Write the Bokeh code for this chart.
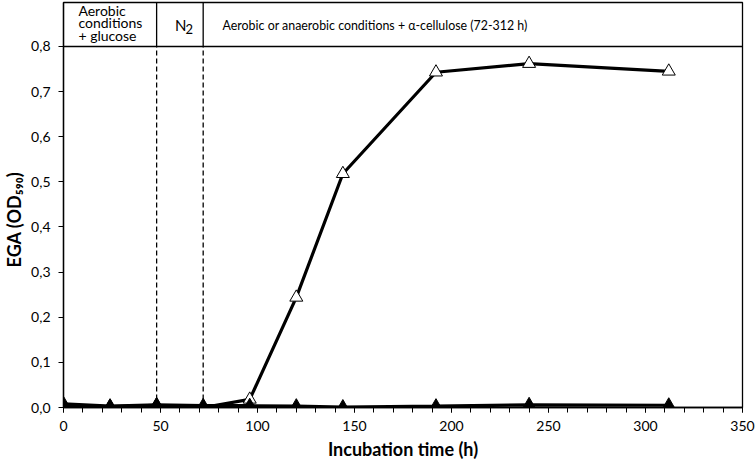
from bokeh.plotting import figure
from bokeh.models import Range1d, FixedTicker, Label, Span, GlobalInlineStyleSheet
from bokeh.embed import file_html
from bokeh.resources import INLINE

# ---- data ----
time_h = [0, 24, 48, 72, 96, 120, 144, 192, 240, 312]
ega_open = [0.004, 0.002, 0.005, 0.0, 0.018, 0.244, 0.518, 0.743, 0.762, 0.745]
ega_filled = [0.008, 0.003, 0.006, 0.004, 0.004, 0.003, 0.001, 0.003, 0.006, 0.005]

x_ticks = [0, 50, 100, 150, 200, 250, 300, 350]
x_minor = [0, 10, 20, 30, 40, 50, 60, 70, 80, 90, 100, 110, 120, 130, 140, 150, 160,
           170, 180, 190, 200, 210, 220, 230, 240, 250, 260, 270, 280, 290, 300, 310,
           320, 330, 340, 350]
y_ticks = [0.0, 0.1, 0.2, 0.3, 0.4, 0.5, 0.6, 0.7, 0.8]
y_tick_labels = ["0,0", "0,1", "0,2", "0,3", "0,4", "0,5", "0,6", "0,7", "0,8"]

phase_bounds = [48, 72]
phase1_lines = ["Aerobic", "conditions", "+ glucose"]
phase2_main = "N"
phase2_sub = "2"
phase3_text = "Aerobic or anaerobic conditions + \u03b1-cellulose (72-312 h)"

x_title = "Incubation time (h)"
y_title = "EGA (OD\u2085\u2089\u2080)"

FONT = "Lato"
Y_TOP = 0.8975

p = figure(width=755, height=462, output_backend="svg", toolbar_location=None,
           x_range=Range1d(0, 350), y_range=Range1d(0, Y_TOP),
           min_border_left=63, min_border_right=13, min_border_top=2, min_border_bottom=55)
p.stylesheets = [GlobalInlineStyleSheet(css="html,body{margin:0;padding:0;overflow:hidden;}")]
p.grid.visible = False
p.outline_line_color = "black"
p.outline_line_width = 1.3
p.background_fill_color = "white"
p.border_fill_color = "white"

# axes
xa = p.xaxis[0]
xa.ticker = FixedTicker(ticks=x_ticks, minor_ticks=x_minor)
xa.major_tick_in = 0
xa.major_tick_out = 5
xa.minor_tick_in = 0
xa.minor_tick_out = 5
xa.axis_line_color = "black"
xa.axis_line_width = 1.3
xa.major_label_text_font = FONT
xa.major_label_text_font_size = "14px"
xa.major_label_text_color = "black"
xa.major_label_standoff = 8
xa.axis_label = x_title
xa.axis_label_text_font = FONT
xa.axis_label_text_font_style = "bold"
xa.axis_label_text_font_size = "18px"
xa.axis_label_text_color = "black"
xa.axis_label_standoff = 4

ya = p.yaxis[0]
ya.ticker = FixedTicker(ticks=y_ticks, minor_ticks=[])
ya.major_label_overrides = {t: l for t, l in zip(y_ticks, y_tick_labels)}
ya.major_tick_in = 0
ya.major_tick_out = 5
ya.minor_tick_out = 0
ya.axis_line_color = "black"
ya.axis_line_width = 1.3
ya.major_label_text_font = FONT
ya.major_label_text_font_size = "14px"
ya.major_label_text_color = "black"
ya.major_label_standoff = 8
# trailing em spaces push the visible title down to sit beside the data area
ya.axis_label = y_title + "\u2003\u2003\u2009"
ya.axis_label_text_font = FONT
ya.axis_label_text_font_style = "bold"
ya.axis_label_text_font_size = "18px"
ya.axis_label_text_color = "black"
ya.axis_label_standoff = 3

# header separator and phase dividers
p.add_layout(Span(location=0.8, dimension="width", line_color="black", line_width=1.3))
p.segment(x0=phase_bounds, y0=[0.8] * len(phase_bounds), x1=phase_bounds,
          y1=[Y_TOP] * len(phase_bounds), line_color="black", line_width=1.3)
p.segment(x0=phase_bounds, y0=[0] * len(phase_bounds), x1=phase_bounds,
          y1=[0.8] * len(phase_bounds), line_color="black", line_width=1.3, line_dash="5 3")

# series
p.line(time_h, ega_open, line_color="black", line_width=3.2)
p.scatter(time_h, ega_open, marker="triangle", size=13, fill_color="white",
          line_color="black", line_width=1)
p.line(time_h, ega_filled, line_color="black", line_width=3.2)
p.scatter(time_h, ega_filled, marker="triangle", size=13, fill_color="black",
          line_color="black", line_width=1)

# header texts
for i, txt in enumerate(phase1_lines):
    p.add_layout(Label(x=7.7, y=0.8798 - i * 0.0277, text=txt, text_font=FONT,
                       text_font_size="14px", text_baseline="middle", text_align="left",
                       text_color="black"))
p.add_layout(Label(x=57.5, y=0.8476, text=phase2_main, text_font=FONT, text_font_size="15px",
                   text_baseline="middle", text_align="left", text_color="black"))
p.add_layout(Label(x=62.9, y=0.8395, text=phase2_sub, text_font=FONT, text_font_size="13px",
                   text_baseline="middle", text_align="left", text_color="black"))
p.add_layout(Label(x=82, y=0.8476, text=phase3_text, text_font=FONT, text_font_size="12.4px",
                   text_baseline="middle", text_align="left", text_color="black"))

open("out.html", "w").write(file_html(p, INLINE))
